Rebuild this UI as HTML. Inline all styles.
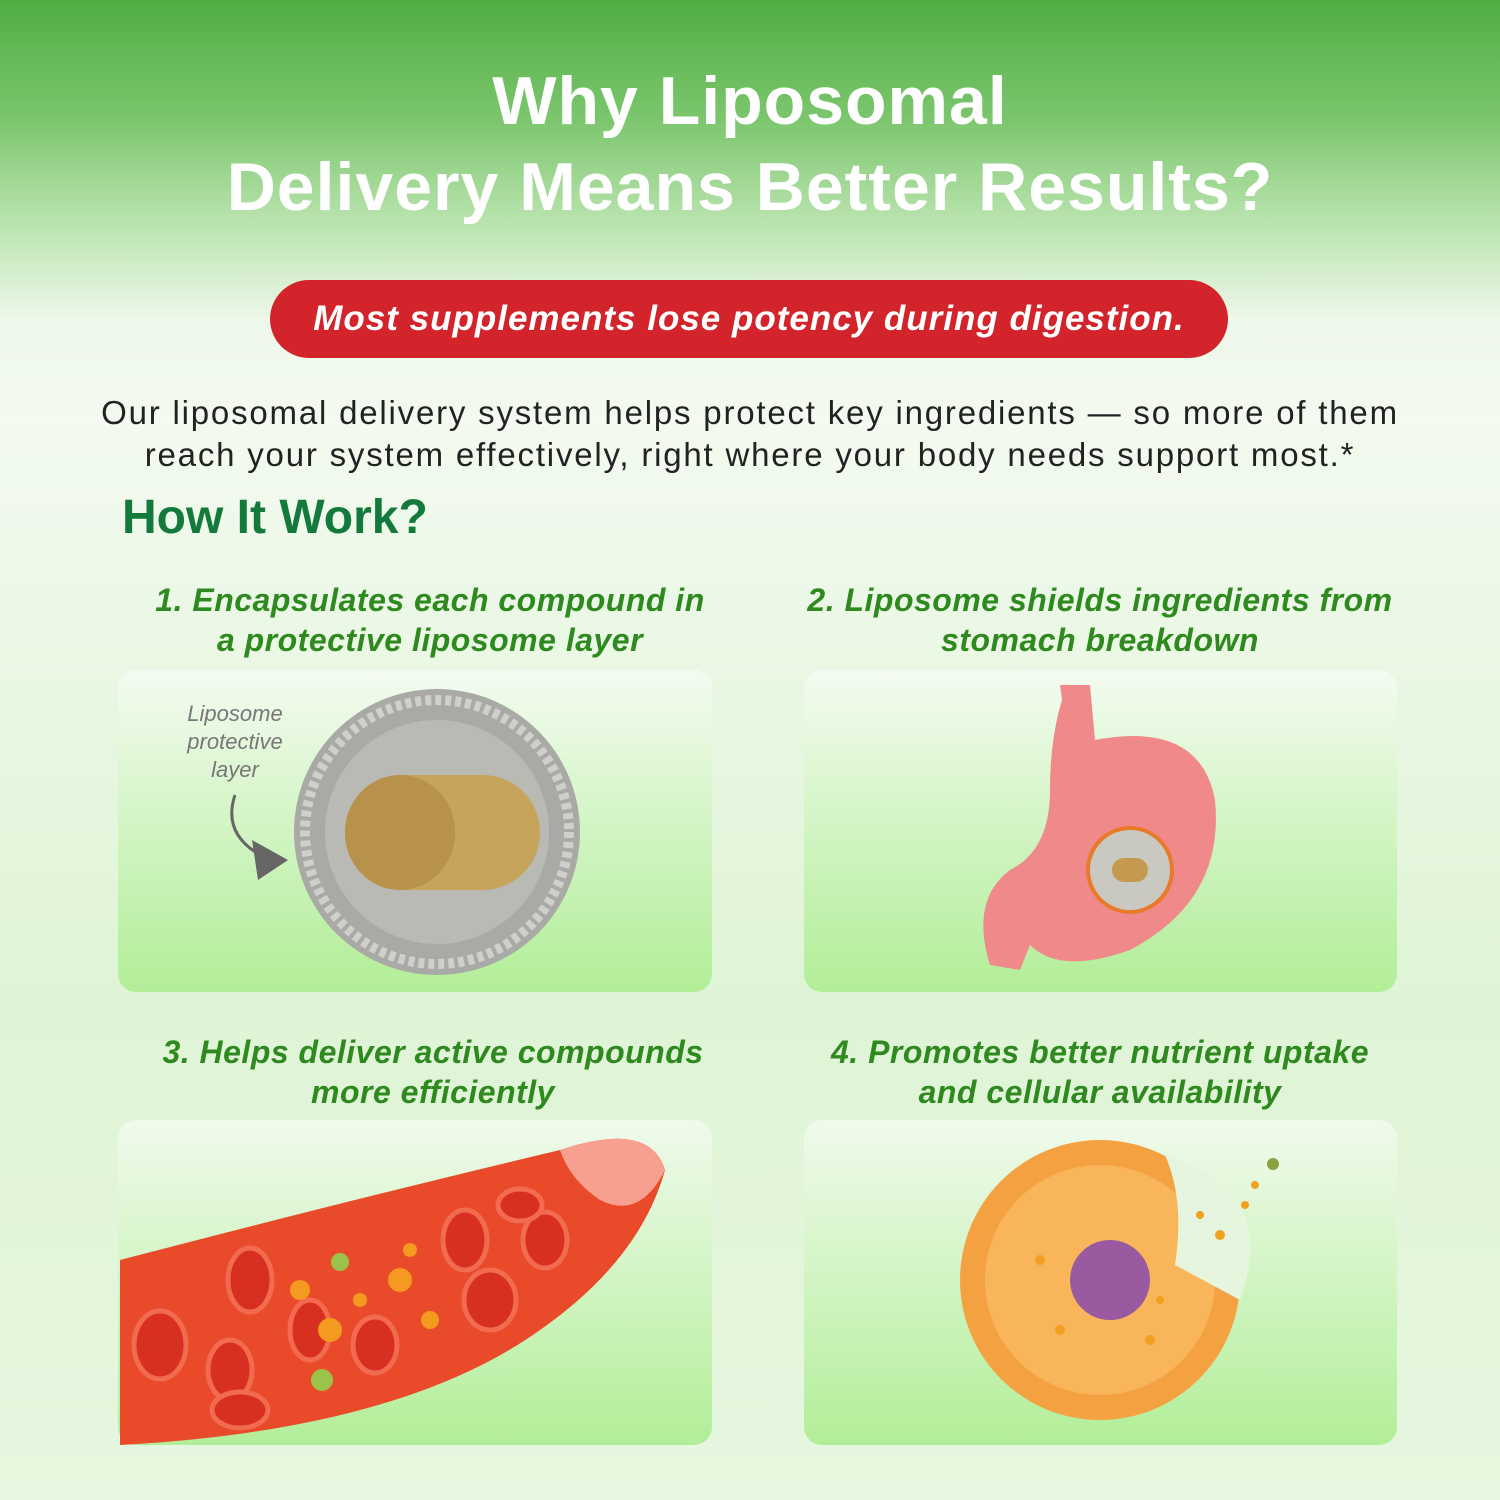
<!DOCTYPE html>
<html><head><meta charset="utf-8"><style>
*{margin:0;padding:0;box-sizing:border-box}
body{width:1500px;height:1500px;overflow:hidden;position:relative;font-family:"Liberation Sans",sans-serif;
background:linear-gradient(180deg,#4fae42 0px,#7cc66e 120px,#b8e3ad 220px,#eef8ea 320px,#f3faf0 420px,#e8f7e2 700px,#dff4d6 1000px,#e6f7df 1500px);}
.abs{position:absolute}
.title{left:0;width:1500px;text-align:center;color:#fff;font-weight:bold;font-size:68px;line-height:86px;top:58px;letter-spacing:1px}
.pill{left:270px;top:280px;width:958px;height:78px;border-radius:40px;background:#d3232b;color:#fff;font-weight:bold;font-style:italic;font-size:35px;text-align:center;line-height:78px;letter-spacing:1px}
.para{left:0;width:1500px;text-align:center;font-size:33px;line-height:42px;top:392px;color:#222;letter-spacing:1.8px}
.how{left:122px;top:490px;font-size:48px;font-weight:bold;color:#137a3c}
.panel{border-radius:18px;background:linear-gradient(180deg,rgba(255,255,255,0.5),#b2ee98)}
.h{color:#2e8a1e;font-weight:bold;font-style:italic;font-size:32px;line-height:40px;text-align:center;letter-spacing:0.5px}
</style></head><body>
<div class="abs title">Why Liposomal<br>Delivery Means Better Results?</div>
<div class="abs pill">Most supplements lose potency during digestion.</div>
<div class="abs para">Our liposomal delivery system helps protect key ingredients — so more of them<br>reach your system effectively, right where your body needs support most.*</div>
<div class="abs how">How It Work?</div>

<div class="abs panel" style="left:118px;top:670px;width:594px;height:322px"></div>
<div class="abs panel" style="left:804px;top:670px;width:593px;height:322px"></div>
<div class="abs panel" style="left:118px;top:1120px;width:594px;height:325px"></div>
<div class="abs panel" style="left:804px;top:1120px;width:593px;height:325px"></div>

<div class="abs h" style="left:100px;width:660px;top:580px">1. Encapsulates each compound in<br>a protective liposome layer</div>
<div class="abs h" style="left:780px;width:640px;top:580px">2. Liposome shields ingredients from<br>stomach breakdown</div>
<div class="abs h" style="left:100px;width:666px;top:1032px">3. Helps deliver active compounds<br>more efficiently</div>
<div class="abs h" style="left:780px;width:640px;top:1032px">4. Promotes better nutrient uptake<br>and cellular availability</div>

<div class="abs" style="left:160px;top:700px;width:150px;text-align:center;color:#777;font-style:italic;font-size:22px;line-height:28px">Liposome<br>protective<br>layer</div>

<svg class="abs" style="left:0;top:0" width="1500" height="1500">
<path d="M235 795 Q220 840 275 862" fill="none" stroke="#666" stroke-width="3"/>
<polygon points="288,860 252,840 258,880" fill="#666"/>
<circle cx="437" cy="832" r="143" fill="#a9aaa6"/>
<circle cx="437" cy="832" r="132" fill="none" stroke="#cfd0cc" stroke-width="10" stroke-dasharray="6 4"/>
<circle cx="437" cy="832" r="112" fill="#b9bab4"/>
<rect x="345" y="775" width="195" height="115" rx="57" fill="#c7a45c"/>
<rect x="345" y="775" width="110" height="115" rx="57" fill="#b8924a"/>
<path d="M1060 685 L1090 685 L1095 740 Q1200 720 1215 800 Q1225 900 1130 950 Q1060 975 1030 945 L1020 970 L990 965 Q970 900 1010 870 Q1050 850 1050 790 Q1050 740 1062 700 Z" fill="#f08a8a"/>
<circle cx="1130" cy="870" r="42" fill="#c9c9c2" stroke="#e87a2a" stroke-width="4"/>
<rect x="1112" y="858" width="36" height="24" rx="12" fill="#c49a50"/>
<path d="M120 1260 Q350 1200 560 1150 Q650 1120 665 1170 Q640 1260 540 1330 Q400 1430 120 1445 Z" fill="#e94a2a"/>
<path d="M560 1150 Q650 1120 665 1170 Q640 1220 600 1200 Q570 1180 560 1150Z" fill="#f7a090"/>
<g fill="#d83020" stroke="#f26a50" stroke-width="5">
<ellipse cx="160" cy="1345" rx="26" ry="34"/><ellipse cx="250" cy="1280" rx="22" ry="32"/><ellipse cx="230" cy="1370" rx="22" ry="30"/>
<ellipse cx="310" cy="1330" rx="20" ry="30"/><ellipse cx="375" cy="1345" rx="22" ry="28"/><ellipse cx="465" cy="1240" rx="22" ry="30"/>
<ellipse cx="490" cy="1300" rx="26" ry="30"/><ellipse cx="545" cy="1240" rx="22" ry="28"/><ellipse cx="240" cy="1410" rx="28" ry="18"/><ellipse cx="520" cy="1205" rx="22" ry="16"/>
</g>
<g fill="#f49a20"><circle cx="300" cy="1290" r="10"/><circle cx="400" cy="1280" r="12"/><circle cx="330" cy="1330" r="12"/><circle cx="430" cy="1320" r="9"/><circle cx="360" cy="1300" r="7"/><circle cx="410" cy="1250" r="7"/></g>
<circle cx="340" cy="1262" r="9" fill="#9bc34a"/><circle cx="322" cy="1380" r="11" fill="#9bc34a"/>
<circle cx="1100" cy="1280" r="140" fill="#f4a142"/>
<circle cx="1100" cy="1280" r="115" fill="#f8b55a"/>
<path d="M1165 1155 Q1280 1190 1240 1300 L1175 1265 Q1185 1200 1165 1155 Z" fill="#e6f6de"/>
<circle cx="1110" cy="1280" r="40" fill="#9a5aa0"/>
<g fill="#f2a020"><circle cx="1200" cy="1215" r="4"/><circle cx="1220" cy="1235" r="5"/><circle cx="1245" cy="1205" r="4"/><circle cx="1255" cy="1185" r="4"/><circle cx="1060" cy="1330" r="5"/><circle cx="1150" cy="1340" r="5"/><circle cx="1040" cy="1260" r="5"/><circle cx="1160" cy="1300" r="4"/></g>
<circle cx="1273" cy="1164" r="6" fill="#8ca040"/>
</svg>
</body></html>
